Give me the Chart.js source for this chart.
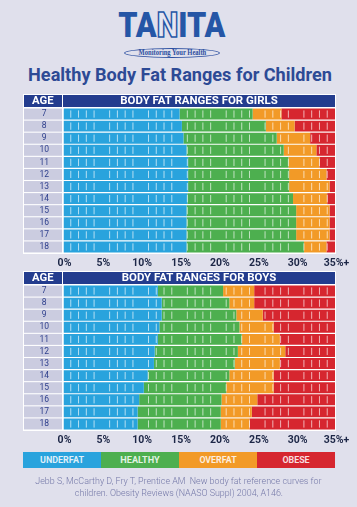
<!DOCTYPE html>
<html><head><meta charset="utf-8">
<script src="https://cdn.jsdelivr.net/npm/chart.js@4.4.1/dist/chart.umd.min.js"></script>
<style>
html,body{margin:0;padding:0}
body{width:357px;height:507px;background:#e0e0ec;position:relative;overflow:hidden;font-family:Roboto,sans-serif}
.t{position:absolute;white-space:pre;text-align:center}
.box{position:absolute}
canvas{position:absolute;left:0}
</style></head><body>
<canvas id="girls" width="357" height="190" style="top:88px;width:357px;height:190px"></canvas>
<canvas id="boys" width="357" height="190" style="top:265px;width:357px;height:190px"></canvas>
<div class="box" style="left:124px;top:48px;width:96px;height:10px;border:1px solid #2c4fa0;border-radius:50%;box-sizing:border-box"></div>
<div id="logo" class="t">TA<span style="color:#e6e6f1;-webkit-text-stroke:1.6px #2556a6">N</span>ITA</div>
<div id="tag" class="t">Monitoring Your Health</div>
<div id="title" class="t">Healthy Body Fat Ranges for Children</div>
<div class="box" style="left:24px;top:95px;width:38px;height:11.5px;background:#233c8e"></div>
<div class="box" style="left:63px;top:95px;width:272px;height:11.5px;background:#233c8e"></div>
<div class="box" style="left:24px;top:272px;width:38px;height:11.5px;background:#233c8e"></div>
<div class="box" style="left:63px;top:272px;width:272px;height:11.5px;background:#233c8e"></div>
<div id="gAge" class="t">AGE</div>
<div id="gHdr" class="t">BODY FAT RANGES FOR GIRLS</div>
<div id="bAge" class="t">AGE</div>
<div id="bHdr" class="t">BODY FAT RANGES FOR BOYS</div>
<div class="box" style="left:23px;top:452.3px;width:78px;height:15.4px;background:#29a3dd"></div>
<div class="box" style="left:101px;top:452.3px;width:78px;height:15.4px;background:#4daf4f"></div>
<div class="box" style="left:179px;top:452.3px;width:78px;height:15.4px;background:#f29a27"></div>
<div class="box" style="left:257px;top:452.3px;width:78px;height:15.4px;background:#d6262f"></div>
<div id="lg0" class="t"></div>
<div id="lg1" class="t"></div>
<div id="lg2" class="t"></div>
<div id="lg3" class="t"></div>
<div id="f1" class="t">Jebb S, McCarthy D, Fry T, Prentice AM  New body fat reference curves for</div>
<div id="f2" class="t">children. Obesity Reviews (NAASO Suppl) 2004, A146.</div>
<script>
// ---------- data ----------
const ages = ['7','8','9','10','11','12','13','14','15','16','17','18'];
const xTickLabels = ['0%','5%','10%','15%','20%','25%','30%','35%+'];
const categoryNames = ['UNDERFAT','HEALTHY','OVERFAT','OBESE'];
const scaleMax = 35;
// upper limit (% body fat) of each range, per age
const girlsUnderfat = [15.0, 15.3, 15.5, 15.9, 16.1, 16.1, 16.1, 16.0, 15.9, 15.9, 15.9, 15.9];
const girlsHealthy  = [24.4, 26.1, 27.5, 28.4, 29.0, 29.1, 29.1, 29.6, 30.0, 30.0, 30.0, 31.0];
const girlsOverfat  = [28.1, 29.8, 31.8, 32.6, 33.0, 33.9, 34.3, 34.0, 34.3, 34.3, 34.3, 33.9];
const boysUnderfat  = [12.2, 12.7, 12.7, 12.4, 12.2, 11.8, 11.7, 10.9, 10.4, 9.8, 9.6, 9.6];
const boysHealthy   = [20.6, 21.4, 22.3, 22.7, 23.0, 22.5, 22.1, 21.4, 21.0, 20.4, 20.3, 20.3];
const boysOverfat   = [24.6, 24.6, 25.7, 27.1, 27.9, 28.6, 27.9, 27.1, 27.1, 25.0, 24.3, 24.0];

const colors = ['#29a3dd', '#4daf4f', '#f29a27', '#d6262f'];
const AGE_BG = '#cbcce0';

// ---------- text placement ----------
const mctx = document.createElement('canvas').getContext('2d');
function place(id, o) {
  const el = document.getElementById(id);
  if (o.text) el.textContent = o.text;
  const fam = o.family || 'Roboto';
  const wt = o.weight || 'normal';
  mctx.font = wt + ' 100px ' + fam;
  const nat100 = mctx.measureText(el.textContent).width;
  let size = o.size, sx = 1;
  if (o.w && o.scale) sx = o.w / (nat100 * size / 100);
  else if (o.w) size = 100 * o.w / nat100;
  const natW = nat100 * size / 100 + 1;
  const L = Math.round(size * 1.3);
  el.style.font = wt + ' ' + size + 'px ' + fam;
  el.style.lineHeight = L + 'px';
  el.style.height = L + 'px';
  el.style.width = natW + 'px';
  el.style.left = (o.cx - natW / 2) + 'px';
  el.style.top = (o.cy - L / 2) + 'px';
  el.style.color = o.color;
  el.style.transform = 'scaleX(' + sx + ')';
  el.style.transformOrigin = '50% 50%';
  return size;
}
place('logo', {family: 'Roboto', weight: '900', size: 34.5, w: 107, scale: true, cx: 171.5, cy: 25, color: '#2556a6'});
place('tag', {family: '"Liberation Serif"', weight: 'bold', size: 7.5, w: 68, scale: true, cx: 172, cy: 53, color: '#2c4fa0'});
place('title', {weight: 'bold', w: 304, cx: 180, cy: 74.5, color: '#2d4a95'});
place('gAge', {weight: 'bold', w: 21.6, cx: 42.8, cy: 100.8, color: '#fff'});
place('gHdr', {weight: 'bold', w: 158, cx: 199, cy: 100.8, color: '#fff'});
place('bAge', {weight: 'bold', w: 21.6, cx: 42.8, cy: 277.8, color: '#fff'});
place('bHdr', {weight: 'bold', w: 155, cx: 199, cy: 277.8, color: '#fff'});
const lgW = [44, 39.3, 37.3, 27.3];
categoryNames.forEach((n, i) => place('lg' + i, {text: n, weight: 'bold', w: lgW[i], cx: 62 + 78 * i, cy: 460, color: 'rgba(255,255,255,0.85)'}));
const fs = place('f1', {weight: '300', w: 287, cx: 178.4, cy: 481.2, color: '#7478a8'});
place('f2', {weight: '300', size: fs, cx: 178.9, cy: 492.7, color: '#7478a8'});

// ---------- charts ----------
const tablePlugin = {
  id: 'tablePlugin',
  beforeDraw(chart) {
    const {ctx, chartArea: a, scales: {y}} = chart;
    ctx.save();
    ctx.fillStyle = '#ffffff';
    ctx.fillRect(23, a.top - 14, a.right + 1 - 23, a.bottom - a.top + 15);
    const pitch = y.getPixelForValue(1) - y.getPixelForValue(0);
    const h = pitch * 0.91;
    ctx.fillStyle = AGE_BG;
    ages.forEach((_, i) => {
      const yc = y.getPixelForValue(i);
      ctx.fillRect(24, yc - h / 2, 38, h);
    });
    ctx.restore();
  },
  afterDatasetsDraw(chart) {
    const {ctx, scales: {x, y}} = chart;
    const pitch = y.getPixelForValue(1) - y.getPixelForValue(0);
    ctx.save();
    ctx.strokeStyle = 'rgba(255,255,255,0.65)';
    ctx.lineWidth = 1;
    ages.forEach((_, i) => {
      const yc = y.getPixelForValue(i);
      for (let v = 1; v < scaleMax; v++) {
        if (v % 5 === 0) continue;
        const px = x.getPixelForValue(v);
        ctx.beginPath();
        ctx.moveTo(px, yc - pitch * 0.3);
        ctx.lineTo(px, yc + pitch * 0.3);
        ctx.stroke();
      }
    });
    ctx.restore();
  }
};

function makeChart(id, under, healthy, over) {
  const ranges = [
    under.map(v => [0, v]),
    under.map((v, i) => [v, healthy[i]]),
    healthy.map((v, i) => [v, over[i]]),
    over.map(v => [v, scaleMax])
  ];
  return new Chart(document.getElementById(id), {
    type: 'bar',
    data: {
      labels: ages,
      datasets: ranges.map((d, i) => ({label: categoryNames[i], data: d, backgroundColor: colors[i]}))
    },
    options: {
      indexAxis: 'y',
      responsive: false,
      animation: false,
      layout: {padding: {top: 20, left: 24, right: 22, bottom: 0}},
      plugins: {legend: {display: false}, tooltip: {enabled: false}, title: {display: false}},
      datasets: {bar: {grouped: false, barPercentage: 0.91, categoryPercentage: 1, borderWidth: 0}},
      scales: {
        x: {
          min: 0, max: scaleMax, position: 'bottom', z: 1,
          grid: {color: '#ffffff', lineWidth: 1.5, drawTicks: false},
          border: {display: false},
          ticks: {stepSize: 5, padding: 4, autoSkip: false, maxRotation: 0, labelOffset: 1.5,
                  color: '#1d2747', font: {family: 'Roboto', weight: 'bold', size: 10.5},
                  callback: (v, i) => xTickLabels[i]},
          afterFit(s) { s.height = 25; }
        },
        y: {
          grid: {display: false, drawTicks: false},
          border: {display: false},
          ticks: {autoSkip: false, color: '#2e3f8c', font: {family: 'Roboto', size: 8.5}, crossAlign: 'center', padding: 14},
          afterFit(s) { s.width = 39; }
        }
      }
    },
    plugins: [tablePlugin]
  });
}
makeChart('girls', girlsUnderfat, girlsHealthy, girlsOverfat);
makeChart('boys', boysUnderfat, boysHealthy, boysOverfat);
</script>
</body></html>
